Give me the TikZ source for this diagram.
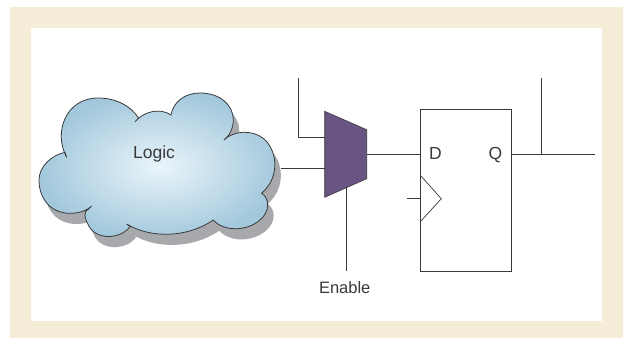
\documentclass[tikz,border=0pt]{standalone}
\usepackage{fontspec}
\setmainfont{Liberation Sans}
\definecolor{beige}{HTML}{F5EDD8}
\definecolor{ink}{HTML}{3A3A3C}
\definecolor{shadowgrey}{HTML}{A7A9AC}
\definecolor{muxfill}{HTML}{6A5484}
\definecolor{cloudout}{HTML}{A3C8DC}
\definecolor{cloudin}{HTML}{EAF5FB}
\tikzset{
  wire/.style={draw=ink,line width=0.9pt},
  lbl/.style={inner sep=0pt,anchor=base,text=ink,font=\fontsize{17.5}{20}\selectfont},
  cloudpath/.style={line width=0.8pt},
}
\newcommand{\cloudshape}{
  (140,262) .. controls (100,190) and (135,84) .. (235,84)
  .. controls (290,84) and (335,110) .. (356,145)
  -- (345,155) .. controls (370,125) and (420,112) .. (453,135)
  .. controls (460,95) and (495,69) .. (540,69)
  .. controls (600,69) and (640,105) .. (640,150)
  .. controls (640,175) and (628,198) .. (612,210)
  .. controls (640,182) and (695,178) .. (730,205)
  .. controls (772,240) and (782,320) .. (725,370)
  .. controls (750,385) and (750,425) .. (720,450)
  .. controls (680,485) and (610,485) .. (580,450)
  .. controls (500,505) and (390,505) .. (320,462)
  -- (330,470) .. controls (300,510) and (225,510) .. (205,465)
  .. controls (197,450) and (192,438) .. (197,425)
  -- (215,408) .. controls (190,432) and (150,432) .. (130,428)
  .. controls (85,420) and (57,380) .. (57,330)
  .. controls (57,290) and (95,255) .. (135,247)
  -- cycle
}
\begin{document}
\begin{tikzpicture}[x=1pt,y=-1pt]
\useasboundingbox (0,0) rectangle (623,338);
\fill[white] (0,0) rectangle (623,338);
\fill[beige] (9.5,7) rectangle (623,338);
\fill[white] (31,28) rectangle (601.5,320.7);
% cloud
\begin{scope}[shift={(20,70)},x=0.3333pt,y=-0.3333pt]
  \fill[shadowgrey,shift={(18,32)}] \cloudshape;
  \shade[inner color=cloudin,outer color=cloudout,draw=ink,cloudpath] \cloudshape;
\end{scope}
\node[lbl] (logic) at (154,158.7) {Logic};
\coordinate (cloudE) at (280.7,168.5);
% mux
\coordinate (m1) at (324.7,111.3);
\coordinate (m2) at (366.7,129.7);
\coordinate (m3) at (366.7,178.7);
\coordinate (m4) at (324.7,197.3);
\fill[muxfill,draw=ink,line width=0.6pt] (m1) -- (m2) -- (m3) -- (m4) -- cycle;
\coordinate (muxA) at (324.7,137.3);
\coordinate (muxB) at (324.7,168.5);
\coordinate (muxO) at (366.7,154.3);
\coordinate (muxS) at (346,188);
% flip-flop
\node[draw=ink,line width=0.9pt,minimum width=91.4pt,minimum height=162.4pt,inner sep=0pt] (ff) at (466,190.5) {};
\coordinate (ffD) at (ff.west |- muxO);
\coordinate (ffQ) at (ff.east |- muxO);
\coordinate (ck1) at (420.3,175.3);
\coordinate (ck2) at (441.3,198.7);
\coordinate (ck3) at (420.3,221.7);
\coordinate (ckin) at (407.3,198.7);
\coordinate (ckb) at (420.3,198.7);
\draw[ink,line width=0.7pt] (ck1) -- (ck2) -- (ck3);
\node[lbl] (D) at (435.5,159) {D};
\node[lbl] (Q) at (495.5,159) {Q};
\node[lbl,font=\fontsize{16.5}{20}\selectfont] (en) at (344.7,293) {Enable};
% wires
\coordinate (a1) at (298.3,78);
\coordinate (a2) at (298.3,137.3);
\coordinate (qb) at (541,154.3);
\coordinate (qt) at (541,78);
\coordinate (qe) at (594.7,154.3);
\coordinate (sb) at (346,270.7);
\draw[wire] (a1) -- (a2) -- (muxA);
\draw[wire] (cloudE) -- (muxB);
\draw[wire] (muxO) -- (ffD);
\draw[wire] (ffQ) -- (qe);
\draw[wire] (qb) -- (qt);
\draw[wire] (muxS) -- (sb);
\draw[wire] (ckin) -- (ckb);
\end{tikzpicture}
\end{document}
